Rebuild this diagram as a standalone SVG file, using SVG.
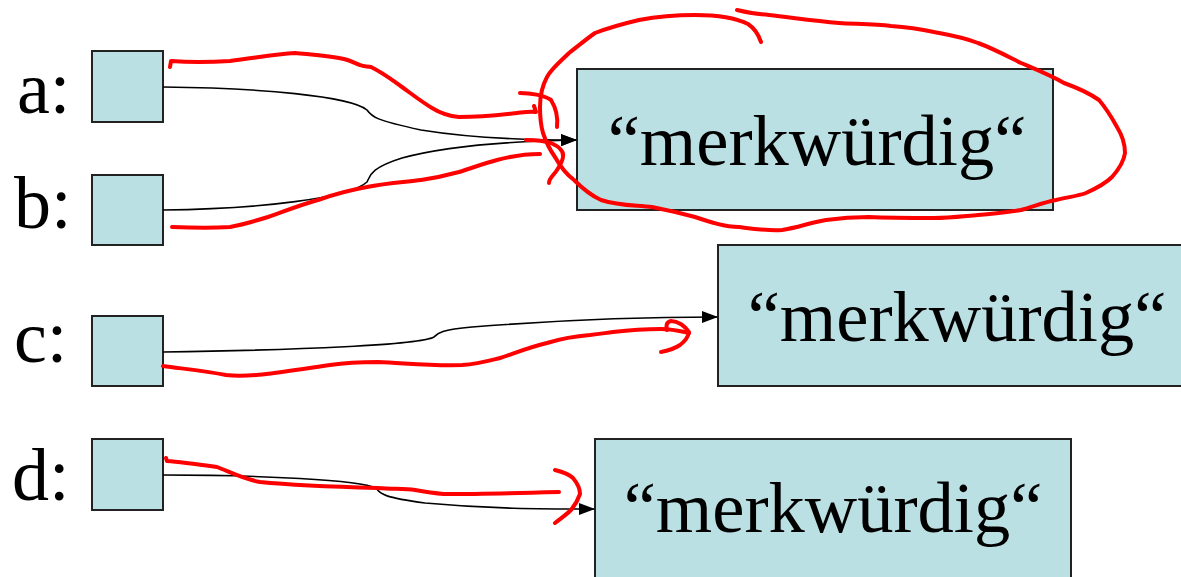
<svg xmlns="http://www.w3.org/2000/svg" width="1181" height="577" viewBox="0 0 1181 577">
  <style>
    .box { fill: #bbe0e3; stroke: #222; stroke-width: 2; }
    .lbl { font-family: "Liberation Serif", "Times New Roman", serif; font-size: 74px; fill: #000; }
    .val { font-family: "Liberation Serif", "Times New Roman", serif; font-size: 72.5px; fill: #000; text-anchor: middle; }
    .link { fill: none; stroke: #000; stroke-width: 1.6; }
    .ink { fill: none; stroke: #f00; stroke-width: 4; stroke-linecap: round; stroke-linejoin: round; }
  </style>
  <defs>
    <marker id="arrow" markerWidth="16" markerHeight="12" refX="15" refY="6" orient="auto" markerUnits="userSpaceOnUse" viewBox="0 0 16 12">
      <path d="M0,0 L16,6 L0,12 Z" fill="#000"/>
    </marker>
  </defs>
  <rect width="1181" height="577" fill="#fff"/>

  <!-- variables -->
  <g id="var-a">
    <text class="lbl" x="17" y="113">a:</text>
    <rect class="box" x="92" y="51" width="71" height="71"/>
  </g>
  <g id="var-b">
    <text class="lbl" x="14" y="228">b:</text>
    <rect class="box" x="92" y="175" width="71" height="70"/>
  </g>
  <g id="var-c">
    <text class="lbl" x="14" y="362">c:</text>
    <rect class="box" x="92" y="316" width="71" height="70"/>
  </g>
  <g id="var-d">
    <text class="lbl" x="12" y="500">d:</text>
    <rect class="box" x="92" y="439" width="71" height="71"/>
  </g>

  <!-- string objects -->
  <g id="str-1">
    <rect class="box" x="577" y="69" width="476" height="141"/>
    <text class="val" x="817" y="165">“merkwürdig“</text>
  </g>
  <g id="str-2">
    <rect class="box" x="718" y="245" width="470" height="141"/>
    <text class="val" x="957" y="341">“merkwürdig“</text>
  </g>
  <g id="str-3">
    <rect class="box" x="595" y="439" width="476" height="145"/>
    <text class="val" x="833" y="532">“merkwürdig“</text>
  </g>

  <!-- references -->
  <g id="connectors">
    <path class="link" marker-end="url(#arrow)" d="M163,87 C260,88 350,96 367,110 C372,117 375,120 421,130 C470,138 520,140 576,140"/>
    <path class="link" marker-end="url(#arrow)" d="M163,210 C260,209 350,198 367,182 C370,176 370,168 402,158 C450,145 520,141 576,140"/>
    <path class="link" marker-end="url(#arrow)" d="M163,352 C300,350 420,345 434,337 C438,333 440,330 472,327 C560,320 640,317 717,317"/>
    <path class="link" marker-end="url(#arrow)" d="M163,475 C260,475 360,480 376,488 C380,493 380,497 425,503 C490,509 540,509 594,509"/>
  </g>

  <!-- red pen annotations -->
  <g id="annotations">
    <path class="ink" d="M170,67 L171,61 C195,63 215,62 230,61 C255,58 275,54 295,53 C315,55 330,56 344,59 C352,61 356,64 360,65 C364,67 367,66 371,67 C385,74 392,80 402,87 C413,95 422,102 432,108 C440,113 448,116 459,117 C480,117 500,115 517,113 C525,112 530,111 536,112 L534,106"/>
    <path class="ink" d="M520,93 C530,93 544,95 551,100 C556,108 558,118 557,127"/>
    <path class="ink" d="M172,227 C195,228 215,228 230,227 C245,224 255,221 268,217 C285,211 300,205 318,200 C335,194 350,190 367,187 C385,183 405,182 421,180 C435,178 448,175 459,172 C472,168 485,163 497,160 C512,156 525,154 540,154"/>
    <path class="ink" d="M526,140 C535,140 545,141 551,143 C560,147 564,152 563,157 C562,163 559,167 557,170 C554,175 549,178 549,183"/>
    <path class="ink" d="M761,42 C758,33 754,28 748,24 C738,19 720,15 695,15 C670,15 655,17 639,20 C622,24 608,28 595,33 C585,40 577,47 569,53 C560,62 552,68 547,77 C541,88 540,98 540,107 C540,118 541,126 543,133 C546,142 550,150 555,157 C560,166 566,174 574,180 C582,188 590,195 601,200 C620,206 635,205 652,207 C667,210 680,213 695,217 C710,222 725,227 739,227 C755,229 768,231 782,230 C797,228 812,222 826,220 C840,218 855,217 869,217 C890,218 910,218 934,218 C950,218 965,216 978,215 C993,214 1008,212 1021,210 C1035,206 1045,202 1056,200 C1068,197 1078,196 1086,193 C1097,188 1106,183 1112,177 C1120,168 1124,160 1125,153 C1125,143 1122,135 1117,127 C1112,118 1106,108 1099,100 C1089,93 1078,88 1064,83 C1050,75 1035,69 1021,63 C1005,55 992,48 978,43 C963,37 950,35 934,32 C920,29 905,27 891,26 C875,24 855,24 839,23 C815,21 795,18 769,15 C757,14 745,12 737,10"/>
    <path class="ink" d="M163,366 C185,369 205,371 226,375 C250,378 280,372 330,365 C350,362 365,362 378,362 C405,363 430,366 462,365 C478,364 488,361 500,358 C515,353 530,347 547,343 C560,339 577,336 590,335 C600,334 605,333 613,332 C630,330 645,329 661,329 C672,329 680,331 689,333"/>
    <path class="ink" d="M667,330 C666,326 666,322 671,321 C678,321 685,326 689,332 C688,338 684,342 680,345 C674,349 667,351 661,352"/>
    <path class="ink" d="M166,458 L167,461 C180,462 195,464 217,467 C230,472 243,479 260,482 C290,485 340,487 378,488 C395,489 405,489 415,490 C428,492 438,494 448,494 C480,494 520,493 559,492"/>
    <path class="ink" d="M555,470 C563,472 569,474 573,478 C578,484 580,489 580,494 C578,500 575,505 571,510 C566,515 560,519 555,523"/>
  </g>
</svg>
